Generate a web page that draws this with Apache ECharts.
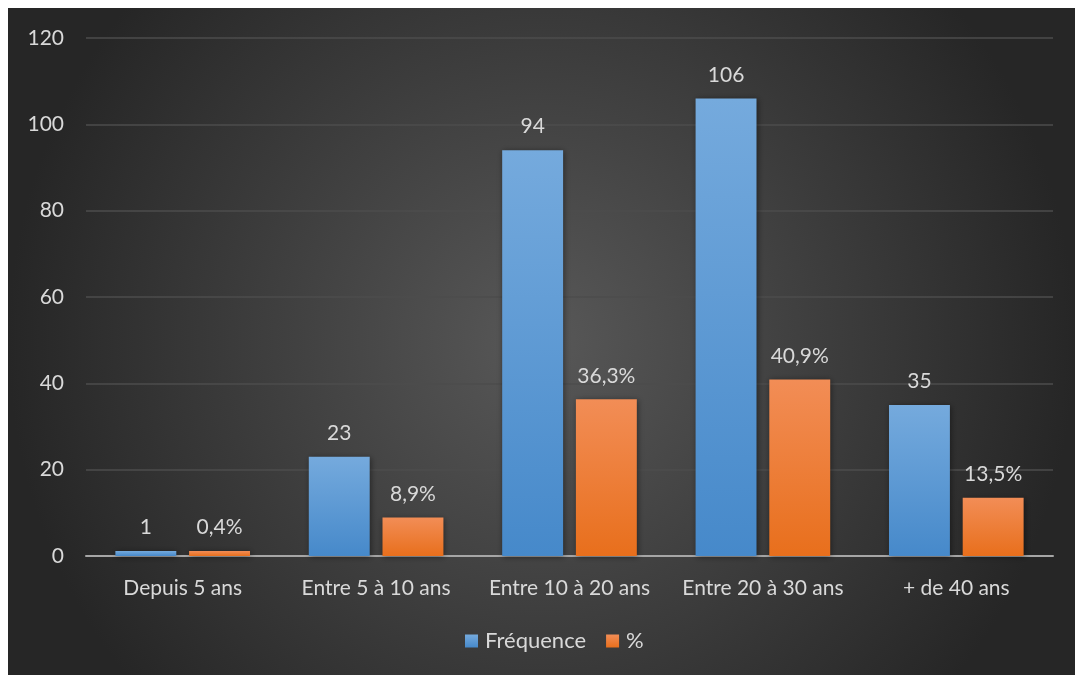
<!DOCTYPE html>
<html>
<head>
<meta charset="utf-8">
<script src="https://cdn.jsdelivr.net/npm/echarts@6/dist/echarts.min.js"></script>
<style>
  html, body { margin: 0; padding: 0; background: #fff; }
  #chart { position: absolute; left: 8px; top: 8px; width: 1067px; height: 667px; }
</style>
</head>
<body>
<div id="chart"></div>
<script>
// categories and values
const categories = ['Depuis 5 ans', 'Entre 5 à 10 ans', 'Entre 10 à 20 ans', 'Entre 20 à 30 ans', '+ de 40 ans'];
const frequence = [1, 23, 94, 106, 35];
const pourcent = [0.4, 8.9, 36.3, 40.9, 13.5];
const yTicks = [0, 20, 40, 60, 80, 100, 120];

const FONT = 'Lato, "Open Sans", sans-serif';
const TEXT = '#d9d9d9';
const SIZE = 21;

function vgrad(top, bottom) {
    return new echarts.graphic.LinearGradient(0, 0, 0, 1, [
        { offset: 0, color: top },
        { offset: 1, color: bottom }
    ]);
}

const chart = echarts.init(document.getElementById('chart'));

chart.setOption({
    backgroundColor: new echarts.graphic.RadialGradient(0.5, 0.5, 0.8, [
        { offset: 0, color: '#585858' },
        { offset: 1, color: '#262626' }
    ]),
    textStyle: { fontFamily: FONT },
    grid: { left: 78, right: 22, top: 30, bottom: 119 },
    legend: {
        bottom: 18,
        left: 452,
        itemWidth: 13,
        itemHeight: 13,
        itemGap: 20,
        icon: 'rect',
        textStyle: { color: TEXT, fontSize: 22, fontFamily: FONT, padding: [0, 0, 0, 2] },
        data: ['Fréquence', '%']
    },
    xAxis: {
        type: 'category',
        data: categories,
        axisTick: { show: false },
        axisLine: { lineStyle: { color: '#a6a6a6', width: 2 } },
        axisLabel: { color: TEXT, fontSize: SIZE, margin: 22, interval: 0, fontFamily: FONT }
    },
    yAxis: {
        type: 'value',
        min: yTicks[0],
        max: yTicks[yTicks.length - 1],
        interval: 20,
        axisLine: { show: false },
        axisTick: { show: false },
        axisLabel: { color: TEXT, fontSize: SIZE, margin: 22, fontFamily: FONT },
        splitLine: { lineStyle: { color: '#4c4c4c', width: 1.5 } }
    },
    series: [
        {
            name: 'Fréquence',
            type: 'bar',
            data: frequence,
            barWidth: '31.5%',
            barGap: '21%',
            barMinHeight: 5,
            itemStyle: {
                color: vgrad('#75aadd', '#4689ca'),
                shadowColor: 'rgba(0,0,0,0.45)',
                shadowBlur: 6,
                shadowOffsetX: 1,
                shadowOffsetY: 1
            },
            label: {
                show: true,
                position: 'top',
                distance: 13,
                color: TEXT,
                fontSize: SIZE,
                fontFamily: FONT
            }
        },
        {
            name: '%',
            type: 'bar',
            data: pourcent,
            barWidth: '31.5%',
            barMinHeight: 5,
            itemStyle: {
                color: vgrad('#f28d56', '#e86f1c'),
                shadowColor: 'rgba(0,0,0,0.45)',
                shadowBlur: 6,
                shadowOffsetX: 1,
                shadowOffsetY: 1
            },
            label: {
                show: true,
                position: 'top',
                distance: 13,
                color: TEXT,
                fontSize: SIZE,
                fontFamily: FONT,
                formatter: p => String(p.value).replace('.', ',') + '%'
            }
        }
    ]
});
</script>
</body>
</html>
